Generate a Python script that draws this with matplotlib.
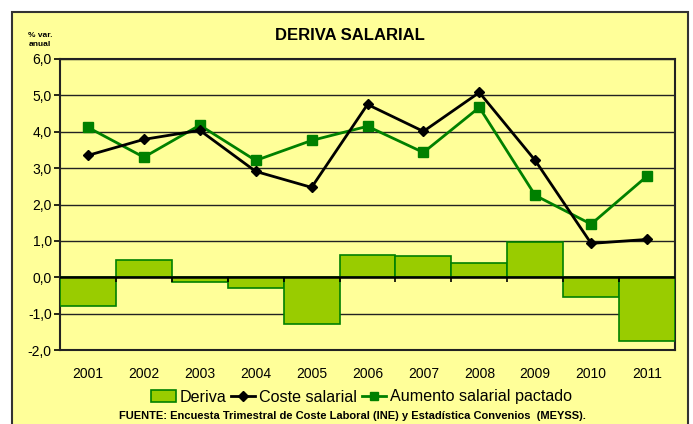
import matplotlib
matplotlib.use("Agg")
import matplotlib.pyplot as plt
from matplotlib.patches import Rectangle
from matplotlib.lines import Line2D
import numpy as np

years = ["2001", "2002", "2003", "2004", "2005", "2006", "2007", "2008", "2009", "2010", "2011"]
deriva = [-0.78, 0.47, -0.14, -0.30, -1.29, 0.60, 0.58, 0.38, 0.96, -0.55, -1.76]
coste = [3.35, 3.79, 4.04, 2.91, 2.47, 4.75, 4.01, 5.08, 3.21, 0.93, 1.04]
aumento = [4.12, 3.30, 4.18, 3.21, 3.76, 4.15, 3.43, 4.67, 2.25, 1.46, 2.78]
yticks = [-2.0, -1.0, 0.0, 1.0, 2.0, 3.0, 4.0, 5.0, 6.0]

YELLOW = "#FFFF99"
BAR = "#99CC00"
GREEN = "#008000"
NARROW = ["Liberation Sans Narrow", "Liberation Sans", "DejaVu Sans"]
SANS = ["Liberation Sans", "DejaVu Sans"]

W, H = 693, 424
fig = plt.figure(figsize=(W / 100, H / 100), dpi=100)
fig.patch.set_facecolor("white")

# chart area box
box = Rectangle((12 / W, -0.05), (688 - 12) / W, (H - 12) / H + 0.05,
                transform=fig.transFigure, facecolor=YELLOW,
                edgecolor="#333333", linewidth=1.5, zorder=-5)
fig.patches.append(box)

ax = fig.add_axes([60 / W, (H - 350) / H, (675 - 60) / W, (350 - 59) / H])
ax.set_zorder(2)
ax.set_facecolor(YELLOW)

x = np.arange(len(years))
ax.bar(x, deriva, width=1.0, color=BAR, edgecolor=GREEN, linewidth=1.2, zorder=3,
       label="Deriva")
ax.plot(x, coste, color="black", lw=2, marker="D", ms=5, zorder=5, label="Coste salarial")
ax.plot(x, aumento, color=GREEN, lw=2, marker="s", ms=6.5, zorder=4,
        label="Aumento salarial pactado")

ax.set_xlim(-0.5, len(years) - 0.5)
ax.set_ylim(-2, 6)
ax.set_yticks(yticks)
ax.set_yticklabels([f"{v:.1f}".replace(".", ",") for v in yticks],
                   fontfamily=NARROW, fontsize=10)
ax.set_xticks(x)
ax.set_xticklabels(years, fontfamily=NARROW, fontsize=10)
ax.tick_params(axis="x", length=0, pad=12)
ax.tick_params(axis="y", length=4, width=1.2, direction="out", pad=2)
ax.grid(axis="y", color="#222222", lw=1, zorder=1)
ax.axhline(0, color="black", lw=1.8, zorder=6)
bounds = np.arange(len(years) + 1) - 0.5
ax.vlines(bounds[1:-1], -0.12, 0, color="black", lw=1.2, zorder=6)
for s in ax.spines.values():
    s.set_color("#222222")
    s.set_linewidth(1.5)

fig.text(350 / W, 1 - 35 / H, "DERIVA SALARIAL", ha="center", va="center",
         fontweight="bold", fontsize=12, family=SANS)
fig.text(40 / W, 1 - 40 / H, "% var.\nanual", ha="center", va="center",
         fontweight="bold", fontsize=6, family=SANS, linespacing=1.3)

handles = [Rectangle((0, 0), 1, 1, facecolor=BAR, edgecolor=GREEN, lw=1.2),
           Line2D([], [], color="black", lw=2, marker="D", ms=5),
           Line2D([], [], color=GREEN, lw=2, marker="s", ms=6)]
fig.legend(handles, ["Deriva", "Coste salarial", "Aumento salarial pactado"],
           loc="center", bbox_to_anchor=(362 / W, 1 - 397 / H), ncol=3, frameon=False,
           prop={"family": SANS, "size": 11.6}, handlelength=1.5, handletextpad=0.25,
           columnspacing=0.3, borderpad=0)

fig.text(352 / W, 1 - 416 / H,
         "FUENTE: Encuesta Trimestral de Coste Laboral (INE) y Estadística Convenios  (MEYSS).",
         ha="center", va="center", fontweight="bold", fontsize=8, family=SANS)

fig.savefig("out.png", dpi=100, facecolor="white")
